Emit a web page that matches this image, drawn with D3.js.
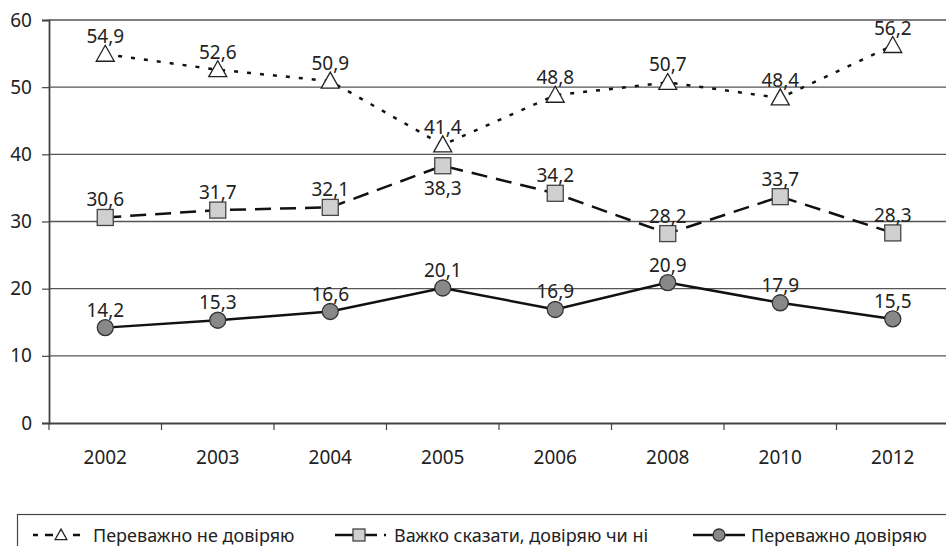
<!DOCTYPE html>
<html>
<head>
<meta charset="utf-8">
<script src="https://cdn.jsdelivr.net/npm/d3@7"></script>
<style>
  body { margin: 0; background: #fff; }
  svg { display: block; font-family: "Noto Sans", sans-serif; }
</style>
</head>
<body>
<div id="chart"></div>
<script>
const years = ["2002", "2003", "2004", "2005", "2006", "2008", "2010", "2012"];
const notTrust = [54.9, 52.6, 50.9, 41.4, 48.8, 50.7, 48.4, 56.2];
const hardToSay = [30.6, 31.7, 32.1, 38.3, 34.2, 28.2, 33.7, 28.3];
const trust = [14.2, 15.3, 16.6, 20.1, 16.9, 20.9, 17.9, 15.5];
const yTicks = [0, 10, 20, 30, 40, 50, 60];
const seriesNames = ["Переважно не довіряю", "Важко сказати, довіряю чи ні", "Переважно довіряю"];

const width = 946, height = 546;
const margin = {top: 20, right: -3, bottom: 123, left: 49};

const svg = d3.select("#chart").append("svg")
    .attr("width", width)
    .attr("height", height);

const x = d3.scaleBand()
    .domain(years)
    .range([margin.left, width - margin.right]);

const y = d3.scaleLinear()
    .domain([0, 60])
    .range([height - margin.bottom, margin.top]);

// gridlines
svg.append("g")
    .selectAll("line")
    .data(yTicks.filter(d => d > 0))
    .join("line")
      .attr("x1", margin.left)
      .attr("x2", width)
      .attr("y1", d => y(d))
      .attr("y2", d => y(d))
      .attr("stroke", "#555")
      .attr("stroke-width", 1.3);

// y axis
const yAxis = svg.append("g")
    .attr("transform", `translate(${margin.left},0)`)
    .call(d3.axisLeft(y).tickValues(yTicks).tickSize(7).tickPadding(10));
yAxis.select(".domain").attr("stroke", "#444").attr("stroke-width", 1.8);
yAxis.selectAll(".tick line").attr("stroke", "#444").attr("stroke-width", 1.2);
yAxis.selectAll("text").attr("font-size", 19).attr("fill", "#222").attr("font-family", "Noto Sans");

// x axis
const xAxis = svg.append("g")
    .attr("transform", `translate(0,${y(0)})`)
    .call(d3.axisBottom(x).tickSize(0).tickPadding(28));
xAxis.select(".domain").attr("stroke", "#444").attr("stroke-width", 1.8);
xAxis.selectAll("text").attr("font-size", 19).attr("fill", "#222").attr("font-family", "Noto Sans");
svg.append("g")
    .selectAll("line")
    .data(years)
    .join("line")
      .attr("x1", d => x(d))
      .attr("x2", d => x(d))
      .attr("y1", y(0))
      .attr("y2", y(0) + 7)
      .attr("stroke", "#444")
      .attr("stroke-width", 1.2);

const cx = d => x(d) + x.bandwidth() / 2;

const series = [
  {name: seriesNames[0], values: notTrust, dash: "4,9", legendDash: "5,7,8,20,7", marker: "triangle"},
  {name: seriesNames[1], values: hardToSay, dash: "16,9", legendDash: "42,7,2,100", marker: "square"},
  {name: seriesNames[2], values: trust, dash: null, legendDash: null, marker: "circle"}
];

const line = d3.line()
    .x((d, i) => cx(years[i]))
    .y(d => y(d));

function drawMarker(g, type, k) {
  const sw = 1.3 / k;
  if (type === "triangle") {
    g.append("path")
      .attr("d", "M0,-9 L9,7 L-9,7 Z")
      .attr("fill", "#fff")
      .attr("stroke", "#222")
      .attr("stroke-width", sw);
  } else if (type === "square") {
    g.append("rect")
      .attr("x", -8).attr("y", -8)
      .attr("width", 16).attr("height", 16)
      .attr("fill", "#d0d0d0")
      .attr("stroke", "#444")
      .attr("stroke-width", sw);
  } else {
    g.append("circle")
      .attr("r", 8)
      .attr("fill", "#888")
      .attr("stroke", "#333")
      .attr("stroke-width", sw);
  }
}

series.forEach(s => {
  svg.append("path")
    .datum(s.values)
    .attr("d", line)
    .attr("fill", "none")
    .attr("stroke", "#111")
    .attr("stroke-width", 2.5)
    .attr("stroke-dasharray", s.dash);
});

series.forEach(s => {
  s.values.forEach((v, i) => {
    const g = svg.append("g")
      .attr("transform", `translate(${cx(years[i])},${y(v)})`);
    drawMarker(g, s.marker, 1);
  });
});

// value labels
const fmt = v => d3.format(".1f")(v).replace(".", ",");
series.forEach(s => {
  s.values.forEach((v, i) => {
    const below = (s.marker === "square" && years[i] === "2005");
    svg.append("text")
      .attr("x", cx(years[i]))
      .attr("y", y(v) + (below ? 29 : -11))
      .attr("text-anchor", "middle")
      .attr("font-size", 19)
      .attr("fill", "#222")
      .text(fmt(v));
  });
});

// legend
const legend = svg.append("g");
legend.append("rect")
    .attr("x", 17.5).attr("y", 514.5)
    .attr("width", 940).attr("height", 40)
    .attr("fill", "#fff")
    .attr("stroke", "#444")
    .attr("stroke-width", 1.2);

const legendItems = [
  {s: series[0], x0: 33, x1: 80, mx: 61, k: 0.65, tx: 93},
  {s: series[1], x0: 335, x1: 387, mx: 359, k: 0.75, tx: 394},
  {s: series[2], x0: 693, x1: 745, mx: 719, k: 0.75, tx: 751}
];
const ly = 535;
legendItems.forEach(it => {
  legend.append("line")
    .attr("x1", it.x0).attr("x2", it.x1)
    .attr("y1", ly).attr("y2", ly)
    .attr("stroke", "#111")
    .attr("stroke-width", 2.5)
    .attr("stroke-dasharray", it.s.legendDash);
  const g = legend.append("g")
    .attr("transform", `translate(${it.mx},${ly}) scale(${it.k})`);
  drawMarker(g, it.s.marker, it.k);
  legend.append("text")
    .attr("x", it.tx)
    .attr("y", ly + 7)
    .attr("font-size", 18)
    .attr("fill", "#222")
    .text(it.s.name);
});
</script>
</body>
</html>
